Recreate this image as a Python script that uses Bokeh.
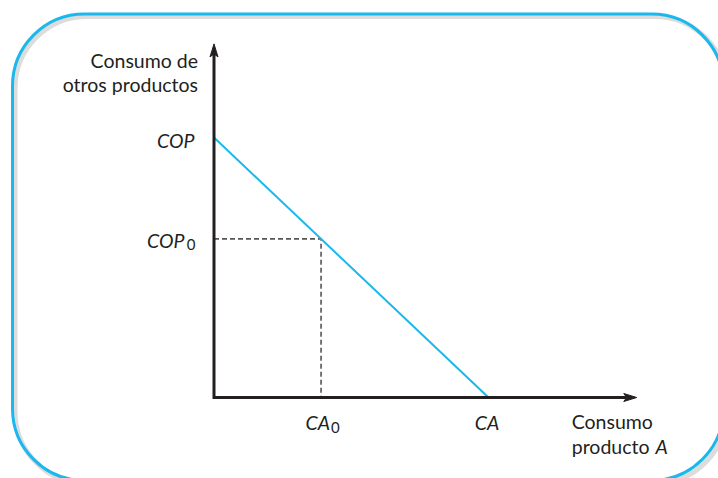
from bokeh.plotting import figure
from bokeh.models import Range1d, BoxAnnotation
from bokeh.core.properties import value
from bokeh.embed import file_html
from bokeh.resources import INLINE

# ---- data (abstract units) ----
COP = 10.0          # y-intercept of budget line
CA = 10.0           # x-intercept of budget line
CA0 = 3.9           # chosen point
COP0 = 6.1
X_AXIS_END = 15.4
Y_AXIS_END = 13.6
budget_x = [0.0, CA]
budget_y = [COP, 0.0]
dash_x = [0.0, CA0, CA0]
dash_y = [COP0, COP0, 0.0]

y_title = ["Consumo de", "otros productos"]
x_title = ["Consumo", "producto"]
x_title_italic = "A"

# ---- layout ----
W, H = 718, 478
OX, OY = 213.5, 397.0        # canvas px of origin (from top)
SX, SY = 27.45, 26.0         # px per data unit

x0 = -OX / SX
x1 = (W - OX) / SX
y0 = -(H - OY) / SY
y1 = OY / SY

def px2x(px):
    return x0 + px / SX

def py2y(py):
    return y1 - py / SY

INK = "#231f20"
CYAN = "#1ab8ec"
FONT = value("Lato")
FS = "19.5px"
DY = -7  # baseline correction

p = figure(width=W, height=H, x_range=Range1d(x0, x1), y_range=Range1d(y0, y1),
           output_backend="svg", toolbar_location=None, min_border=0,
           outline_line_color=None, background_fill_color="white",
           border_fill_color="white")
p.axis.visible = False
p.grid.visible = False

# frame with shadow
shadow = BoxAnnotation(left=px2x(14.5), right=px2x(726), top=py2y(16), bottom=py2y(483),
                       fill_color=None, fill_alpha=0, line_color="#8a8a8a", line_alpha=0.3,
                       line_width=5, border_radius=72)
frame = BoxAnnotation(left=px2x(12), right=px2x(723), top=py2y(13.5), bottom=py2y(480),
                      fill_color=None, fill_alpha=0, line_color=CYAN, line_alpha=1.0,
                      line_width=3, border_radius=72)
p.add_layout(shadow)
p.add_layout(frame)

# dashed guides
p.line(dash_x, dash_y, line_color="#555555", line_width=1.6, line_dash="5 3")

# budget line
p.line(budget_x, budget_y, line_color=CYAN, line_width=2)

# axes
head_len, head_back, head_half = 13.0, 10.0, 4.0
p.line([0, 0, X_AXIS_END - head_back / SX], [Y_AXIS_END - head_back / SY, 0, 0],
       line_color=INK, line_width=3, line_join="miter")
p.patch([X_AXIS_END, X_AXIS_END - head_len / SX, X_AXIS_END - head_back / SX, X_AXIS_END - head_len / SX],
        [0, head_half / SY, 0, -head_half / SY], fill_color=INK, line_color=INK, line_width=1)
p.patch([0, head_half / SX, 0, -head_half / SX],
        [Y_AXIS_END, Y_AXIS_END - head_len / SY, Y_AXIS_END - head_back / SY, Y_AXIS_END - head_len / SY],
        fill_color=INK, line_color=INK, line_width=1)

# axis titles
p.text(x=[0, 0], y=[Y_AXIS_END, Y_AXIS_END], text=y_title, x_offset=[-16, -16],
       y_offset=[24 + DY, 48 + DY],
       text_align="right", text_baseline="alphabetic", text_font=FONT, text_font_size=FS,
       text_color=INK)
p.text(x=[X_AXIS_END, X_AXIS_END], y=[0, 0], text=x_title, x_offset=[-65, -65],
       y_offset=[31 + DY, 56 + DY],
       text_align="left", text_baseline="alphabetic", text_font=FONT, text_font_size=FS,
       text_color=INK)
p.text(x=[X_AXIS_END], y=[0], text=[x_title_italic], x_offset=[31], y_offset=[56 + DY],
       text_align="right", text_baseline="alphabetic", text_font=FONT, text_font_size=FS,
       text_font_style="italic", text_color=INK)

# italic tick-like labels
p.text(x=[0, 0, CA0, CA], y=[COP, COP0, 0, 0], text=["COP", "COP", "CA", "CA"],
       x_offset=[-19.5, -29.5, 9, -1.5], y_offset=[10 + DY, 9 + DY, 32 + DY, 32 + DY],
       text_align=["right", "right", "right", "center"], text_baseline="alphabetic",
       text_font=FONT, text_font_size=FS, text_font_style="italic", text_color=INK)
# subscripts
p.text(x=[0, CA0], y=[COP0, 0], text=["0", "0"], x_offset=[-18.5, 10],
       y_offset=[13 + DY, 37 + DY],
       text_align=["right", "left"], text_baseline="alphabetic",
       text_font=FONT, text_font_size="15px", text_color=INK)

open("out.html", "w").write(file_html(p, INLINE))
